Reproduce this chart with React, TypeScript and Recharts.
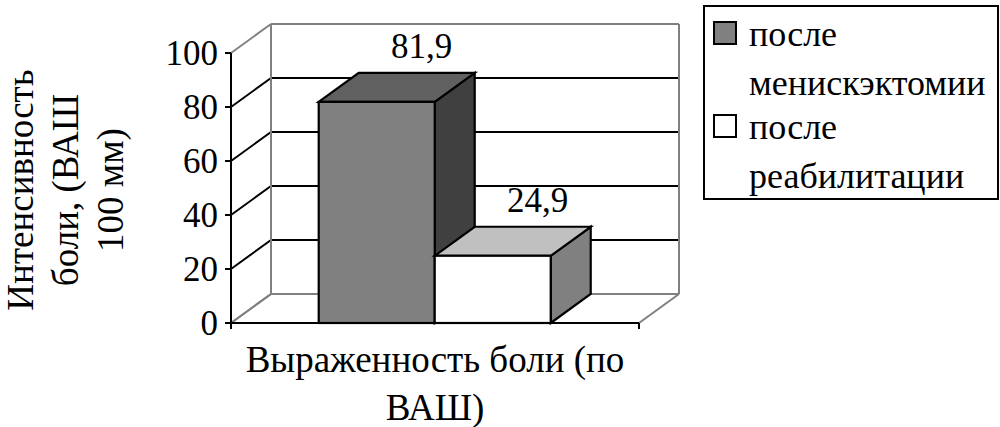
import { BarChart, Bar, XAxis, YAxis, CartesianGrid, Legend, LabelList, Label } from "recharts";

// values
const categories = ["Выраженность боли (по ВАШ)"];
const afterMeniscectomy = [81.9];
const afterRehab = [24.9];
const seriesNames = ["после менискэктомии", "после реабилитации"];
const yTicks = [0, 20, 40, 60, 80, 100];
const yTitleLines = ["Интенсивность", "боли, (ВАШ", "100 мм)"];

const data = categories.map((name, i) => ({
  name,
  before: afterMeniscectomy[i],
  after: afterRehab[i],
}));

const FONT = "Liberation Serif";
const DX = 40; // depth of the fake 3d box
const DY = -29;
const GREY = "#808080";
const txt = (size: number) => ({ fontFamily: FONT, fontSize: size, fill: "#000" });

const makeBox = (top: string, side: string) => (props: any) => {
  const { x, y, width: w, height: h, fill } = props;
  return (
    <g stroke="#000" strokeWidth={2.2} strokeLinejoin="miter">
      <polygon
        points={`${x + w},${y} ${x + w + DX},${y + DY} ${x + w + DX},${y + h + DY} ${x + w},${y + h}`}
        fill={side}
      />
      <polygon
        points={`${x},${y} ${x + DX},${y + DY} ${x + w + DX},${y + DY} ${x + w},${y}`}
        fill={top}
      />
      <rect x={x} y={y} width={w} height={h} fill={fill} />
    </g>
  );
};

const valueLabel = (props: any) => {
  const { x, y, width, value } = props;
  return (
    <text x={x + width / 2 + 45} y={y - 44} textAnchor="middle" style={txt(35)}>
      {String(value).replace(".", ",")}
    </text>
  );
};

// back wall gridlines + the diagonals that join them to the front axis
const backH = (props: any) => {
  const { x1, x2, y1, y, height } = props;
  const edge = Math.abs(y1 - y) < 1 || Math.abs(y1 - (y + height)) < 1;
  const c = edge ? GREY : "#000";
  return (
    <g key={props.key}>
      <line x1={x1 + DX} y1={y1 + DY} x2={x2 + DX} y2={y1 + DY} stroke={c} strokeWidth={2} />
      <line x1={x1} y1={y1} x2={x1 + DX} y2={y1 + DY} stroke={c} strokeWidth={2} />
    </g>
  );
};

const backV = (props: any) => {
  const { x1, y1, y2 } = props;
  return (
    <g key={props.key}>
      <line x1={x1 + DX} y1={y1 + DY} x2={x1 + DX} y2={y2 + DY} stroke={GREY} strokeWidth={2} />
      <line x1={x1} y1={y2} x2={x1 + DX} y2={y2 + DY} stroke={GREY} strokeWidth={2} />
      <line x1={x1} y1={y2} x2={x1} y2={y2 + 6} stroke="#000" strokeWidth={2} />
    </g>
  );
};

const wrap = (s: string, max: number) => {
  const out: string[] = [];
  let cur = "";
  s.split(" ").forEach((w) => {
    if (cur && (cur + " " + w).length > max) {
      out.push(cur);
      cur = w;
    } else cur = cur ? cur + " " + w : w;
  });
  if (cur) out.push(cur);
  return out;
};

const CategoryTick = (props: any) => {
  const { x, y, payload } = props;
  const lines = wrap(String(payload.value), 22);
  return (
    <text x={x} y={y} textAnchor="middle" style={txt(37)}>
      {lines.map((l, i) => (
        <tspan key={i} x={x} dy={i === 0 ? 49 : 48}>
          {l}
        </tspan>
      ))}
    </text>
  );
};

const YTitle = (props: any) => {
  const vb = props.viewBox || { x: 0, y: 53, width: 231, height: 270 };
  const cy = vb.y + vb.height / 2 + 2;
  return (
    <g>
      {yTitleLines.map((l, i) => {
        const bx = 33 + i * 45;
        return (
          <text key={i} x={bx} y={cy} transform={`rotate(-90, ${bx}, ${cy})`} textAnchor="middle" style={txt(37)}>
            {l}
          </text>
        );
      })}
    </g>
  );
};

const LegendBox = (props: any) => {
  const items = props.payload || [];
  return (
    <svg width={297} height={196}>
      <rect x={1} y={1} width={294} height={193} fill="#fff" stroke="#000" strokeWidth={2} />
      {items.map((it: any, i: number) => {
        const [first, ...rest] = String(it.value).split(" ");
        const top = 17 + i * 93;
        return (
          <g key={i}>
            <rect x={11} y={top} width={22} height={22} fill={it.color} stroke="#000" strokeWidth={2} />
            <text style={txt(36)}>
              <tspan x={46} y={top + 24}>{first}</tspan>
              <tspan x={46} y={top + 73}>{rest.join(" ")}</tspan>
            </text>
          </g>
        );
      })}
    </svg>
  );
};

export default function App() {
  return (
    <div
      style={{
        position: "absolute",
        left: 0,
        top: 0,
        width: 1000,
        height: 427,
        background: "#fff",
        fontFamily: FONT,
      }}
    >
      <BarChart
        width={1000}
        height={427}
        data={data}
        margin={{ top: 53, right: 361, bottom: 74, left: 0 }}
        barCategoryGap="21.5%"
        barGap={0}
      >
        <CartesianGrid
          horizontal={backH}
          vertical={backV}
          verticalCoordinatesGenerator={({ offset }: any) => [offset.left, offset.left + offset.width]}
        />
        <XAxis
          dataKey="name"
          axisLine={{ stroke: "#000", strokeWidth: 2 }}
          tickLine={false}
          tickSize={0}
          tickMargin={0}
          tick={<CategoryTick />}
          interval={0}
        />
        <YAxis
          width={231}
          domain={[0, 100]}
          ticks={yTicks}
          interval={0}
          axisLine={{ stroke: "#000", strokeWidth: 2 }}
          tickLine={{ stroke: "#000", strokeWidth: 2 }}
          tickSize={6}
          tickMargin={7}
          tick={{ ...txt(35), style: txt(35) }}
        >
          <Label content={<YTitle />} />
        </YAxis>
        <Legend
          layout="vertical"
          align="center"
          verticalAlign="middle"
          content={<LegendBox />}
          wrapperStyle={{ left: 703, top: 5, width: 297, height: 196 }}
        />
        <Bar
          dataKey="before"
          name={seriesNames[0]}
          fill="#808080"
          shape={makeBox("#606060", "#404040")}
          isAnimationActive={false}
        >
          <LabelList dataKey="before" content={valueLabel} />
        </Bar>
        <Bar
          dataKey="after"
          name={seriesNames[1]}
          fill="#ffffff"
          shape={makeBox("#c0c0c0", "#808080")}
          isAnimationActive={false}
        >
          <LabelList dataKey="after" content={valueLabel} />
        </Bar>
      </BarChart>
    </div>
  );
}
